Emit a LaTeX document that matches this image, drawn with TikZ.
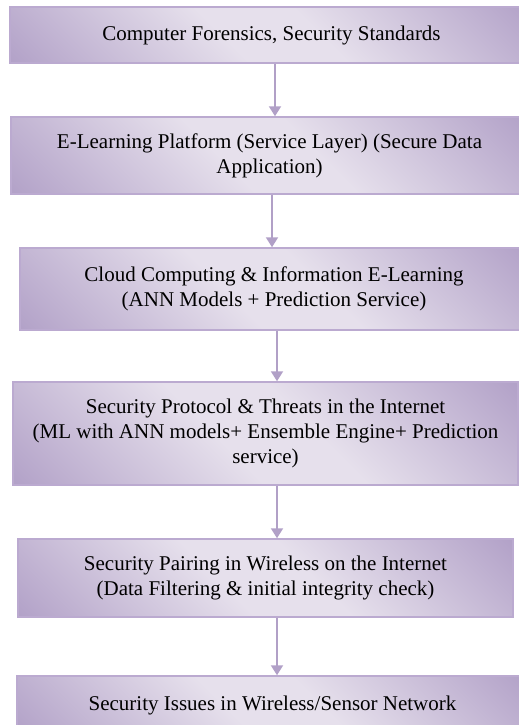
\documentclass[tikz,border=0pt]{standalone}
\usepackage{fontspec}
\setmainfont{Liberation Serif}
\usetikzlibrary{arrows.meta}
\definecolor{pdark}{HTML}{B1A0C7}
\definecolor{plight}{HTML}{E6E0EC}
\definecolor{pline}{HTML}{BBAAD0}
\pgfdeclarehorizontalshading{boxshade}{100bp}{color(0bp)=(pdark); color(14bp)=(pdark); color(44bp)=(plight); color(56bp)=(plight); color(86bp)=(pdark); color(100bp)=(pdark)}
\tikzset{
  box/.style={draw=pline, line width=1.5pt, shading=boxshade, shading angle=45,
    align=center, font=\fontsize{21}{25}\selectfont, inner sep=0pt, text=black},
  arr/.style={draw=pdark, line width=2pt, -{Triangle[width=12pt,length=10pt]}}
}
\begin{document}
\begin{tikzpicture}[x=1pt,y=-1pt]
\useasboundingbox (0,0) rectangle (519,725);
\node[box, minimum width=523pt, minimum height=56pt] (b1) at (271.5,35)
  {Computer Forensics, Security Standards};
\node[box, minimum width=517pt, minimum height=77pt] (b2) at (269.5,155.5)
  {E-Learning Platform (Service Layer) (Secure Data\\Application)};
\node[box, minimum width=508pt, minimum height=82pt] (b3) at (274,289)
  {Cloud Computing \& Information E-Learning\\(ANN Models + Prediction Service)};
\node[box, minimum width=505pt, minimum height=103pt] (b4) at (265.5,433.5)
  {Security Protocol \& Threats in the Internet\\(ML with ANN models+ Ensemble Engine+ Prediction\\service)};
\node[box, minimum width=495pt, minimum height=78pt] (b5) at (265.5,578)
  {Security Pairing in Wireless on the Internet\\(Data Filtering \& initial integrity check)};
\node[box, minimum width=511pt, minimum height=58pt] (b6) at (272.5,705)
  {Security Issues in Wireless/Sensor Network};
\draw[arr] ([xshift=3.5pt]b1.south) -- ([xshift=3.5pt]b1.south |- b2.north);
\draw[arr] ([xshift=2.5pt]b2.south) -- ([xshift=2.5pt]b2.south |- b3.north);
\draw[arr] ([xshift=3pt]b3.south) -- ([xshift=3pt]b3.south |- b4.north);
\draw[arr] ([xshift=11.5pt]b4.south) -- ([xshift=11.5pt]b4.south |- b5.north);
\draw[arr] ([xshift=11.5pt]b5.south) -- ([xshift=11.5pt]b5.south |- b6.north);
\end{tikzpicture}
\end{document}
